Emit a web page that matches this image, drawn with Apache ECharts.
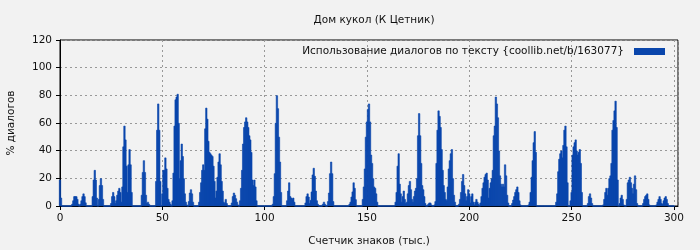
<!DOCTYPE html>
<html><head><meta charset="utf-8">
<script src="https://cdn.jsdelivr.net/npm/echarts@6/dist/echarts.min.js"></script>
<style>html,body{margin:0;padding:0;background:#f2f2f2}#c{width:700px;height:250px}</style>
</head><body><div id="c"></div>
<script>
const titleText = 'Дом кукол (К Цетник)';
const seriesName = 'Использование диалогов по тексту {coollib.net/b/163077}';
const xAxisName = 'Счетчик знаков (тыс.)';
const yAxisName = '% диалогов';
// x position of first bar and spacing (thousand chars)
const xStart = 0;
const xStep = 0.5;
// % of dialogue per 0.5k-char bin
const dialogShare = [
19,6,0,0,0,0,0,0,0,0,
0,0,1.5,4,7,7,7,5,1.5,0,
1.5,4,7,9,7,2.5,0,0,0,0,
0,0,7,19,26,19,6,0,5,15,
20,15,5,0,0,0,0,0,0,0,
2,7,10,7,2,4,8,11,13,10,
3,14,43,58,48,29,10,30,41,30,
10,0,0,0,0,0,0,0,0,0,
8,24.5,33,24.5,8,2,3,1.5,0,0,
0,0,0,0,18,55,74,55,18,0,
9,26,26,35,27,13,5,3,1.5,0,
4,24,58,77,79,81,60,20,33,45,
36,20,9,3,1,0,3.4,9.6,12,9,
3,0,0,0,0,0,3,10,17,26,
30,26,56,71,63,47,39,38,37,36,
29,18,6,11,21,32,38,30,18,11,
3,2,5,2,0,0,0,0,2.4,7,
9.6,8,5.5,3,1,0,4,13,26,45,
57,61,64,61,57,51,48,39,19,15,
19,14,4,0,0,0,0,0,0,0,
0,0,0,0,0,0,0,0,1.5,7,
23.6,60,80,70.6,50,32,10,0,0,0,
0,0,4,11,17,7,6,5,6,3,
0,0,0,0,0,0,0,0,0,0,
2.4,7,9,6.7,2,4.3,10.4,22.7,27.5,21.7,
11,4,1.5,0,0,0,0,1.5,3,1.5,
0,0,3.4,9.6,23.6,32,23.6,3.4,0,0,
0,0,0,0,0,0,0,0,0,0,
0,0,0,1.5,3,6.7,10.4,17,13,4.8,
0,0,0,0,0,0,5,14,27,50,
61,70,74,61,37,31,20,14,13,9,
3,0,0,0,0,0,0,0,0,0,
0,0,0,0,0,0,0,0,3,10,
29,38,16,9,3,7,11,5,2,3,
9,15,18,12,5,3,7,11,13,20,
51,67,51,31,15,12,7,2,0,0,
1.5,2.4,2.4,1,0,0,1,3.4,31,55,
69,65,57,41,26,15,10,5,4,14,
27,33,38,41,20,8,3,0,0,0,
1.5,5,10,18,23,15,9,4,7,12,
9,2.4,7,9,3,1,3,5,3,1.5,
0,2.4,7,13,17,21,23,24,19,6,
13,17,20,26,51,58,79,74,64,40,
22,16,14,16,14,30,22,8,2.4,0,
0,0,2,4.5,7,10,12,14,10,4,
1,0,0,0,0,0,0,0,1,3,
10,21,33,46,54,39,0,0,0,0,
0,0,0,0,0,0,0,0,0,0,
0,0,0,0,0,3,9,25,34,38,
40,35,44,55,58,43,17,0,0,4,
10,37,43,46,48,40,37,39,41,31,
10,0,0,0,0,0,2,7,9,6,
2,0,0,0,0,0,0,0,0,0,
0,1,5,10,13,8,13,20,22,31,
55,62,69,76,57,19,0,2,6,8,
5,1,0,0,5,17,19,21,17,13,
9,16,22,12,2,0,0,0,0,0,
2,5,7,8,9,5,1,0,0,0,
0,0,0,1,3,5,7,5,2,1.5,
4,6,7,5,2,0,0,0,0,0,
0
];
const xMin = 0, xMax = 302, xInterval = 50;
const yMin = 0, yMax = 120, yInterval = 20;

const barColor = '#0a46ac';
const chart = echarts.init(document.getElementById('c'), null, {renderer: 'canvas'});
const font = 'DejaVu Sans';
chart.setOption({
  backgroundColor: '#f2f2f2',
  animation: false,
  textStyle: {fontFamily: font},
  title: {
    text: titleText, left: 369, top: 10, textAlign: 'center',
    textStyle: {fontSize: 10.5, fontWeight: 'normal', color: '#111', fontFamily: font}
  },
  legend: {
    data: [seriesName], right: 30, top: 41, align: 'right',
    itemWidth: 31, itemHeight: 7, itemGap: 6,
    icon: 'rect',
    itemStyle: {borderWidth: 0},
    textStyle: {fontSize: 10.5, color: '#111', fontFamily: font, padding: [0, 5, 0, 0]},
    backgroundColor: 'transparent'
  },
  grid: {left: 60, right: 22, top: 40, bottom: 44, show: true, borderColor: '#000', borderWidth: 1,
         backgroundColor: 'transparent', containLabel: false, outerBoundsMode: 'none'},
  xAxis: {
    type: 'value', min: xMin, max: xMax, interval: xInterval,
    name: xAxisName, nameLocation: 'middle', nameGap: 30,
    nameTextStyle: {fontSize: 10.5, color: '#111', fontFamily: font},
    axisLine: {show: true, lineStyle: {color: '#000', width: 1}},
    axisTick: {show: true, length: 4, lineStyle: {color: '#000'}},
    axisLabel: {fontSize: 10.5, color: '#111', margin: 7, showMaxLabel: false, fontFamily: font},
    splitLine: {show: true, lineStyle: {color: '#999', type: [2, 3], width: 1}}
  },
  yAxis: {
    type: 'value', min: yMin, max: yMax, interval: yInterval,
    name: yAxisName, nameLocation: 'middle', nameGap: 43, nameRotate: 90,
    nameTextStyle: {fontSize: 10.5, color: '#111', fontFamily: font},
    axisLine: {show: true, lineStyle: {color: '#000', width: 1}},
    axisTick: {show: true, length: 4, lineStyle: {color: '#000'}},
    axisLabel: {fontSize: 10.5, color: '#111', margin: 8, fontFamily: font},
    splitLine: {show: true, lineStyle: {color: '#999', type: [2, 3], width: 1}}
  },
  series: [{
    name: seriesName, type: 'bar',
    data: dialogShare.map((v, i) => [xStart + i * xStep, v]),
    barWidth: 2, barGap: '-100%',
    itemStyle: {color: barColor, borderColor: barColor, borderWidth: 0.6},
    large: false
  }]
});
</script></body></html>
